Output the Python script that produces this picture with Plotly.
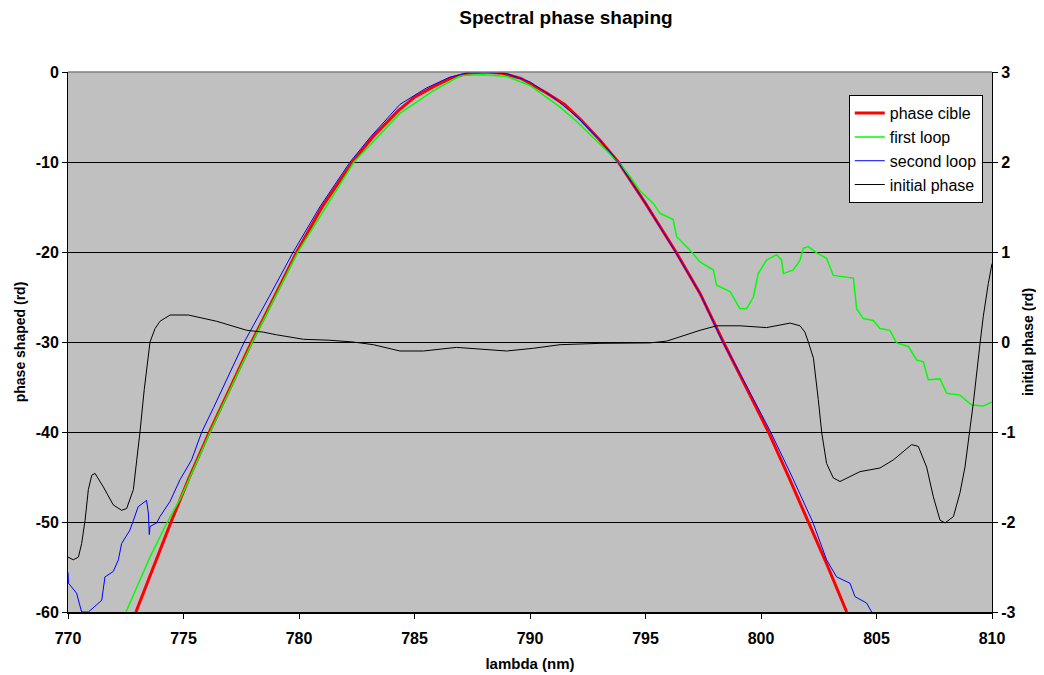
import plotly.graph_objects as go

# ---------------- data ----------------
red_x = [772.94, 774.46, 775.21, 776.12, 777.0, 777.95, 778.93, 779.9, 781.0, 782.32, 783.2, 784.3,
         785.0, 785.8, 786.6, 787.3, 788.05, 788.8, 789.6, 790.7, 791.5, 792.16, 793.0, 793.82,
         795.0, 796.32, 797.36, 798.37, 799.35, 800.32, 801.2, 802.05, 802.9, 803.71]
red_y = [-60, -50, -45.3, -40, -35.2, -30, -25, -20, -15, -10, -7.2, -4.3,
         -2.8, -1.65, -0.65, -0.15, 0, -0.15, -0.7, -2.3, -3.6, -5.2, -7.5, -10,
         -14.6, -20, -24.6, -30, -35, -40, -45, -50, -55, -60]

green_x = [772.51, 773.12, 773.55, 773.84, 774.2, 774.9, 776.15, 777.98, 779.95, 782.38, 784.37, 785.81,
           787.0, 788.0, 789.0, 790.0, 790.58, 791.3, 792.02, 793.0, 793.82, 794.3, 794.76,
           795.34, 795.63, 796.2, 796.35, 796.93, 797.36, 797.94, 798.08, 798.66, 799.09, 799.38,
           799.67, 799.88, 800.24, 800.68, 800.89, 800.97, 801.4, 801.69, 801.83, 802.05, 802.41,
           802.84, 803.13, 804.0, 804.14, 804.43, 804.86, 805.15, 805.58, 805.87, 806.38, 806.74,
           807.03, 807.24, 807.75, 808.04, 808.61, 809.12, 809.62, 810.0]
green_y = [-60, -56.4, -53.9, -52.4, -50.5, -47.2, -40, -30, -20, -10, -4.6, -2.1,
           -0.4, -0.3, -0.5, -1.5, -2.6, -3.9, -5.5, -8.0, -10, -11.5, -13.2,
           -14.6, -15.7, -16.4, -18.3, -19.8, -21.1, -22.0, -23.7, -24.4, -26.3, -26.3,
           -25.0, -22.4, -20.9, -20.3, -20.9, -22.4, -22.0, -20.9, -19.6, -19.4, -20.1,
           -20.7, -22.6, -22.9, -26.3, -27.4, -27.6, -28.5, -28.7, -30.1, -30.5, -32.0,
           -32.2, -34.2, -34.1, -35.7, -35.9, -37.0, -37.1, -36.7]

blue_x = [770.0, 770.02, 770.37, 770.59, 770.88, 771.46, 771.6, 771.96, 772.18, 772.32, 772.68, 772.83,
          773.04, 773.4, 773.48, 773.52, 773.55, 773.84, 773.98, 774.42, 774.85, 775.35, 775.79,
          776.3, 776.87, 777.63, 778.7, 779.75, 780.9, 782.21, 783.1, 784.37, 785.5, 786.5, 787.3,
          788.05, 789.0, 790.0, 791.0, 792.0, 793.0, 793.82, 795.0, 796.3, 797.36, 798.35, 799.4,
          800.42, 801.35, 802.24, 802.84, 803.27, 803.85, 804.07, 804.57, 804.79]
blue_y = [-55.6, -56.8, -57.9, -60, -60, -58.7, -56.1, -55.5, -54.2, -52.4, -50.9, -49.8,
          -48.3, -47.6, -49.0, -51.4, -50.5, -50.1, -49.4, -47.7, -45.3, -43.1, -40,
          -37.3, -34.2, -30, -25, -20, -15, -10, -7.2, -3.6, -1.8, -0.6, -0.1,
          0.0, -0.2, -1.1, -2.8, -4.9, -7.5, -10, -14.6, -20, -24.6, -30, -35,
          -40, -45, -50, -54.2, -56.1, -56.8, -58.3, -59.0, -60]

black_x = [770.0, 770.23, 770.45, 770.59, 770.74, 770.88, 771.03, 771.17, 771.53, 771.96, 772.32, 772.54,
           772.83, 772.97, 773.12, 773.3, 773.55, 773.77, 773.98, 774.42, 775.21, 776.44, 777.74,
           778.45, 779.03, 780.2, 781.3, 782.35, 783.22, 784.37, 785.38, 786.82, 787.84, 788.99,
           790.14, 791.3, 793.03, 795.19, 795.92, 797.36, 798.08, 799.09, 800.24, 801.26, 801.69,
           801.9, 802.05, 802.27, 802.48, 802.63, 802.84, 803.13, 803.42, 804.0, 804.29, 805.15,
           805.73, 806.52, 806.81, 807.17, 807.46, 807.75, 807.97, 808.33, 808.61, 808.83, 809.05,
           809.2, 809.48, 809.62, 809.84, 810.0]
black_y = [-2.39, -2.42, -2.39, -2.24, -1.98, -1.64, -1.48, -1.46, -1.61, -1.81, -1.87, -1.85,
           -1.64, -1.35, -0.99, -0.53, 0.0, 0.15, 0.23, 0.30, 0.30, 0.23, 0.13,
           0.11, 0.08, 0.03, 0.02, 0.0, -0.03, -0.1, -0.1, -0.06, -0.08, -0.1,
           -0.07, -0.03, -0.015, -0.01, 0.01, 0.13, 0.18, 0.18, 0.16, 0.21, 0.18,
           0.11, 0.0, -0.18, -0.64, -1.01, -1.35, -1.51, -1.55, -1.48, -1.44, -1.40,
           -1.31, -1.14, -1.16, -1.39, -1.72, -1.98, -2.01, -1.94, -1.68, -1.39, -0.94,
           -0.66, -0.02, 0.28, 0.65, 0.87]

x_ticks = [770, 775, 780, 785, 790, 795, 800, 805, 810]
y_left_ticks = [0, -10, -20, -30, -40, -50, -60]
y_right_ticks = [3, 2, 1, 0, -1, -2, -3]
grid_vals = [-10, -20, -30, -40, -50]

# ---------------- figure ----------------
FONT = "Liberation Sans, Arial, sans-serif"


def bold_labels(vals):
    return ["<b>%s</b>" % str(v) for v in vals]


tickfont = dict(family=FONT, size=16, color="black")

fig = go.Figure()
# invisible trace that carries the grid-only axis (drawn first, behind data)
fig.add_trace(go.Scatter(x=[770], y=[-100], yaxis="y3", mode="lines", showlegend=False,
                         hoverinfo="skip", line=dict(color="rgba(0,0,0,0)")))
fig.add_trace(go.Scatter(x=red_x, y=red_y, mode="lines", name="phase cible",
                         line=dict(color="#FF0000", width=3)))
fig.add_trace(go.Scatter(x=green_x, y=green_y, mode="lines", name="first loop",
                         line=dict(color="#00FF00", width=1.5)))
fig.add_trace(go.Scatter(x=blue_x, y=blue_y, mode="lines", name="second loop",
                         line=dict(color="#0000FF", width=1)))
fig.add_trace(go.Scatter(x=black_x, y=black_y, mode="lines", name="initial phase",
                         yaxis="y2", line=dict(color="#000000", width=1)))

fig.update_layout(
    width=1036, height=667,
    margin=dict(l=60, r=52, t=64, b=63),
    paper_bgcolor="white",
    plot_bgcolor="#C0C0C0",
    title=dict(text="<b>Spectral phase shaping</b>", x=0.5386, xanchor="center", y=0.9865,
               yanchor="middle", font=dict(family=FONT, size=19, color="black")),
    font=dict(family=FONT, color="black"),
    xaxis=dict(range=[770, 810], tickvals=x_ticks, ticktext=bold_labels(x_ticks),
               showgrid=False, zeroline=False, automargin=False,
               showline=True, linecolor="black", linewidth=2, ticks="outside", ticklen=5,
               tickcolor="black", tickfont=tickfont, ticklabelstandoff=6,
               title=dict(text="<b>lambda (nm)</b>", font=dict(family=FONT, size=15), standoff=12)),
    yaxis=dict(range=[-60, 0], tickvals=y_left_ticks, ticktext=bold_labels(y_left_ticks),
               showgrid=False, zeroline=False, automargin=False,
               showline=True, linecolor="black", linewidth=1, ticks="outside", ticklen=5,
               tickcolor="black", tickfont=tickfont,
               title=dict(text="<b>phase shaped (rd)</b>", font=dict(family=FONT, size=14), standoff=6)),
    yaxis2=dict(range=[-3, 3], tickvals=y_right_ticks, ticktext=bold_labels(y_right_ticks),
                overlaying="y", side="right", automargin=False,
                showgrid=False, zeroline=False, showline=True, linecolor="black", linewidth=1,
                ticks="outside", ticklen=5, tickcolor="black", tickfont=tickfont,
                title=dict(text="<b>initial phase (rd)</b>", font=dict(family=FONT, size=14), standoff=8)),
    yaxis3=dict(range=[-60, 0], tickvals=grid_vals, overlaying="y", showticklabels=False,
                showgrid=True, gridcolor="black", gridwidth=1, zeroline=False, showline=False,
                ticks="", automargin=False),
    legend=dict(x=0.990, y=0.957, xanchor="right", yanchor="top", bgcolor="white",
                bordercolor="black", borderwidth=1,
                font=dict(family=FONT, size=16, color="black"),
                tracegroupgap=0, itemwidth=30),
    showlegend=True,
    shapes=[dict(type="line", xref="paper", yref="paper", x0=0, x1=1, y0=1, y1=1,
                 line=dict(color="#808080", width=1.5))],
)

fig.write_html("out.html")
